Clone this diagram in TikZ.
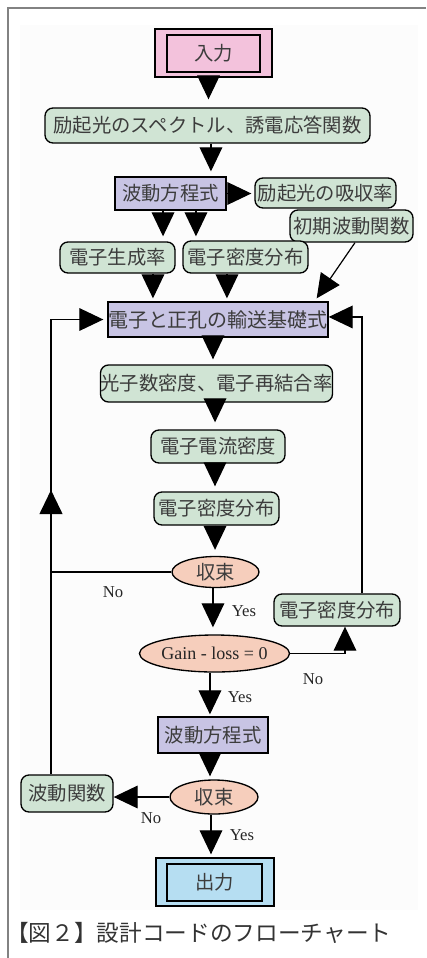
\documentclass[tikz,border=0pt]{standalone}
\usepackage{fontspec}
\setmainfont{Liberation Serif}
\newfontfamily\jp{Noto Sans CJK JP}
\usetikzlibrary{arrows.meta,shapes.geometric,calc}
\definecolor{pinkf}{RGB}{243,194,220}
\definecolor{greenf}{RGB}{208,228,212}
\definecolor{lavf}{RGB}{200,196,228}
\definecolor{peachf}{RGB}{246,206,188}
\definecolor{bluef}{RGB}{182,222,242}
\definecolor{framec}{RGB}{130,130,130}
\definecolor{bgc}{RGB}{252,252,252}
\definecolor{txtc}{RGB}{60,60,60}
\begin{document}
\begin{tikzpicture}[x=0.75pt,y=-0.75pt,
  box/.style={draw, line width=1pt, inner sep=0pt, font=\jp\fontsize{14.5}{16}\selectfont, text=txtc},
  rbox/.style={box, rounded corners=6pt, fill=greenf},
  sbox/.style={box, fill=lavf},
  ebox/.style={box, ellipse, fill=peachf},
  conn/.style={line width=0.9pt},
  arr/.style={conn, -{Triangle[length=18pt,width=17pt]}},
  lab/.style={font=\fontsize{12.5}{14}\selectfont, text=black!85}]
\useasboundingbox (0,0) rectangle (426,958);
\fill[bgc] (20,25) rectangle (418,910);
\draw[framec, line width=1.5pt] (426,8) -- (8,8) -- (8,958);

% nodes
\node[box, fill=pinkf, minimum width=87.75pt, minimum height=36pt] (inF) at (213.5,53) {};
\node[box, minimum width=69.75pt, minimum height=27.75pt] (in) at (213.5,53.5) {入力};
\node[rbox, minimum width=243.75pt, minimum height=26.25pt] (spec) at (207.5,125.5) {励起光のスペクトル、誘電応答関数};
\node[sbox, minimum width=83.25pt, minimum height=24.75pt] (wave1) at (170.5,193.5) {波動方程式};
\node[rbox, minimum width=105.75pt, minimum height=22.5pt] (abs) at (325.5,193) {励起光の吸収率};
\node[rbox, minimum width=92.25pt, minimum height=24pt] (init) at (351.5,226) {初期波動関数};
\node[rbox, minimum width=86.25pt, minimum height=23.25pt] (gen) at (117.5,257.5) {電子生成率};
\node[rbox, minimum width=93.75pt, minimum height=24pt] (dens1) at (245.5,257) {電子密度分布};
\node[sbox, minimum width=160.5pt, minimum height=26.25pt, font=\jp\fontsize{15}{16}\selectfont] (trans) at (218,319.5) {電子と正孔の輸送基礎式};
\node[rbox, minimum width=173.25pt, minimum height=27.75pt] (phot) at (216.5,383.5) {光子数密度、電子再結合率};
\node[rbox, minimum width=100.5pt, minimum height=24.75pt] (curr) at (218,446.5) {電子電流密度};
\node[rbox, minimum width=93.75pt, minimum height=24.75pt] (dens2) at (216.5,508.5) {電子密度分布};
\node[ebox, minimum width=65.25pt, minimum height=23.25pt] (conv1) at (215.5,572) {収束};
\node[ebox, minimum width=110.25pt, minimum height=27.75pt, font=\fontsize{13.5}{15}\selectfont, text=black!85] (gain) at (214.5,653.5) {Gain - loss = 0};
\node[rbox, minimum width=94.5pt, minimum height=24pt] (dens3) at (337,610) {電子密度分布};
\node[sbox, minimum width=82.5pt, minimum height=27pt] (wave2) at (213,735) {波動方程式};
\node[ebox, minimum width=66pt, minimum height=25.5pt] (conv2) at (214,797) {収束};
\node[rbox, minimum width=69pt, minimum height=27.75pt] (wfunc) at (67,793.5) {波動関数};
\node[box, fill=bluef, minimum width=88.5pt, minimum height=36pt] (outF) at (215,882) {};
\node[box, minimum width=71.25pt, minimum height=27.75pt] (out) at (214.5,882.5) {出力};

% straight arrows
\draw[arr, shorten >=6pt] ([xshift=-3.75pt]inF.south) -- ([xshift=-3.75pt]inF.south |- spec.north);
\draw[arr, shorten >=3.75pt] ([xshift=2.6pt]spec.south) -- ([xshift=2.6pt]spec.south |- wave1.north);
\draw[arr, shorten >=2.25pt] (wave1.east) -- (wave1.east -| abs.west);
\draw[arr, shorten >=3.75pt] ([xshift=-5.6pt]wave1.south) -- ([xshift=-5.6pt]wave1.south |- gen.north);
\draw[arr, shorten >=3pt] ([xshift=19.1pt]wave1.south) -- ([xshift=19.1pt]wave1.south |- dens1.north);
\draw[arr, shorten >=2.25pt] ([xshift=26.6pt]gen.south) -- ([xshift=26.6pt]gen.south |- trans.north);
\draw[arr, shorten >=2.25pt] ([xshift=-13.9pt]dens1.south) -- ([xshift=-13.9pt]dens1.south |- trans.north);
\draw[arr] ([xshift=2.6pt]init.south) -- ([xshift=-9pt,yshift=2.25pt]trans.north east);
\draw[arr, shorten >=3.75pt] ([xshift=-3.75pt]trans.south) -- ([xshift=-3.75pt]trans.south |- phot.north);
\draw[arr, shorten >=5.25pt] ([xshift=-1.1pt]phot.south) -- ([xshift=-1.1pt]phot.south |- curr.north);
\draw[arr, shorten >=3.75pt] ([xshift=-2.25pt]curr.south) -- ([xshift=-2.25pt]curr.south |- dens2.north);
\draw[arr, shorten >=4.5pt] ([xshift=-1.1pt]dens2.south) -- ([xshift=-1.1pt]dens2.south |- conv1.north);
\draw[arr, shorten >=5.25pt] ([xshift=-1.9pt]conv1.south) -- ([xshift=-1.9pt]conv1.south |- gain.north);
\draw[arr, shorten >=1.5pt] ([xshift=-3.4pt]gain.south) -- ([xshift=-3.4pt]gain.south |- wave2.north);
\draw[arr, shorten >=2.25pt] ([xshift=-2.25pt]wave2.south) -- ([xshift=-2.25pt]wave2.south |- conv2.north);
\draw[arr, shorten >=2.25pt] ([xshift=-2.25pt]conv2.south) -- ([xshift=-2.25pt]conv2.south |- outF.north);
\draw[arr] (conv2.west) -- (conv2.west -| wfunc.east);

% right loop
\draw[arr] (gain.east) -| ([xshift=6pt]dens3.south);
\draw[arr] ([xshift=18.75pt]dens3.north) |- ([yshift=1.9pt]trans.east);

% left loop
\coordinate (L1) at (51,572);
\coordinate (L3) at (51,490);
\draw[conn] (conv1.west) -- (L1);
\draw[arr, shorten >=3pt] (L1) |- (trans.west);
\draw[arr, line width=1.5pt] (L1) -- (L3);
\draw[conn] (wfunc.north -| L1) -- (L1);

% labels
\node[lab] (no1) at (113,592) {No};
\node[lab] (yes1) at (244,611) {Yes};
\node[lab] (no2) at (313,679) {No};
\node[lab] (yes2) at (240,697) {Yes};
\node[lab] (no3) at (151,818) {No};
\node[lab] (yes3) at (242,835) {Yes};

% caption
\node[anchor=west, inner sep=0pt, font=\jp\fontsize{17}{20}\selectfont, text=black!80] (cap) at (6,933) {【図２】設計コードのフローチャート};
\end{tikzpicture}
\end{document}
